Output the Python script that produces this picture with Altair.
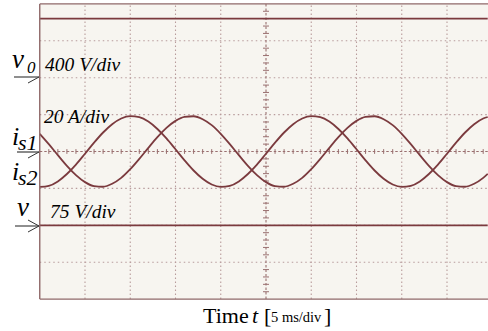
import altair as alt
import pandas as pd

# ---------------- data ----------------
# time axis: 5 ms/div, samples in ms
t_ms = list(range(0, 50)) + [49.5]

# source currents (A), 20 A/div
is1_A = [9.6, 4.0, -2.0, -7.8, -12.8, -16.6, -18.8, -19.1, -17.5, -14.3,
         -9.6, -4.0, 2.0, 7.8, 12.8, 16.6, 18.8, 19.1, 17.5, 14.3,
         9.6, 4.0, -2.0, -7.8, -12.8, -16.6, -18.8, -19.1, -17.5, -14.3,
         -9.6, -4.0, 2.0, 7.8, 12.8, 16.6, 18.8, 19.1, 17.5, 14.3,
         9.6, 4.0, -2.0, -7.8, -12.8, -16.6, -18.8, -19.1, -17.5, -14.3,
         -12.1]
is2_A = [-19.2, -18.6, -16.2, -12.2, -7.1, -1.2, 4.8, 10.3, 14.8, 17.9,
         19.2, 18.6, 16.2, 12.2, 7.1, 1.2, -4.8, -10.3, -14.8, -17.9,
         -19.2, -18.6, -16.2, -12.2, -7.1, -1.2, 4.8, 10.3, 14.8, 17.9,
         19.2, 18.6, 16.2, 12.2, 7.1, 1.2, -4.8, -10.3, -14.8, -17.9,
         -19.2, -18.6, -16.2, -12.2, -7.1, -1.2, 4.8, 10.3, 14.8, 17.9,
         18.7]

# flat voltage traces
t_flat = [0, 49.5]
v0_V = [640, 640]      # 400 V/div, reference at +2 div
v_V = [0, 0]           # 75 V/div, reference at -2 div

# channel settings: (volts or amps per div, reference level in div)
ch_v0 = (400, 2)
ch_is = (20, 0)
ch_v = (75, -2)

# ---------------- geometry helpers ----------------
X0, PX_PER_MS = 39.75, 9.05
Y0, PX_PER_DIV = 151.5, 36.9
W, H = 488, 331

def tx(px):
    return (px - X0) / PX_PER_MS

def dy(py):
    return (Y0 - py) / PX_PER_DIV

T_MIN, T_MAX = tx(0), tx(W)
D_MAX, D_MIN = dy(0), dy(H)

xs = alt.Scale(domain=[T_MIN, T_MAX], nice=False, zero=False)
ys = alt.Scale(domain=[D_MIN, D_MAX], nice=False, zero=False)

TRACE = "#7b3a3e"
GRID = "#b89c9c"

# ---------------- traces ----------------
rows = []
for t, a, b in zip(t_ms, is1_A, is2_A):
    rows.append({"t": t, "d": ch_is[1] + a / ch_is[0], "s": "is1"})
    rows.append({"t": t, "d": ch_is[1] + b / ch_is[0], "s": "is2"})
for t, a, b in zip(t_flat, v0_V, v_V):
    rows.append({"t": t, "d": ch_v0[1] + a / ch_v0[0], "s": "v0"})
    rows.append({"t": t, "d": ch_v[1] + b / ch_v[0], "s": "v"})
traces = pd.DataFrame(rows)

# ---------------- graticule ----------------
screen = pd.DataFrame({"t0": [0], "t1": [T_MAX], "d0": [-4], "d1": [4]})
hgrid = pd.DataFrame({"d": [-3, -2, -1, 1, 2, 3], "t0": 0, "t1": T_MAX})
vgrid = pd.DataFrame({"t": [5, 10, 15, 20, 30, 35, 40, 45], "d0": -4, "d1": 4})
center = pd.DataFrame({"t0": [0, 25], "t1": [T_MAX, 25], "d0": [0, -4], "d1": [0, 4]})

ticks = []
k = 1
while k * 1.0 < T_MAX:
    tt = k * 1.0
    if k % 5 != 0:
        ticks.append({"t0": tt, "t1": tt, "d0": -0.065, "d1": 0.065})
    k += 1
for j in range(-19, 20):
    if j % 5 != 0:
        ticks.append({"t0": 25 - 0.33, "t1": 25 + 0.33, "d0": j * 0.2, "d1": j * 0.2})
ticks = pd.DataFrame(ticks)

frame = pd.DataFrame({"t0": [0, 0, 0], "t1": [0, T_MAX, T_MAX],
                      "d0": [-4, 4, -4], "d1": [4, 4, -4]})

# ---------------- arrows (pixel positions) ----------------
arrow_px = [
    (14, 77, 39, 77, "#333333", 1.1),
    (28, 83, 39, 77, "#333333", 1.0),
    (17, 152, 39, 152, "#8a8a8a", 2.0),
    (28, 158, 39, 152, "#333333", 1.0),
    (15, 226, 39, 226, "#333333", 1.1),
    (28, 220, 39, 226, "#333333", 1.0),
    (28, 232, 39, 226, "#333333", 1.0),
]
arrows = pd.DataFrame([{"t0": tx(a), "d0": dy(b), "t1": tx(c), "d1": dy(d), "c": col, "w": w}
                       for a, b, c, d, col, w in arrow_px])

# ---------------- labels (pixel positions) ----------------
ital = [
    ("v", 12, 68, 27), ("0", 27, 73, 17), ("400 V/div", 45, 71, 19.5),
    ("i", 12, 145, 26), ("s1", 18, 150, 22),
    ("i", 12, 180, 26), ("s2", 18, 185, 22),
    ("20 A/div", 44, 123, 19.5),
    ("v", 17, 216, 27), ("75 V/div", 50, 218, 19.5),
    ("t", 252, 323, 22),
]
norm = [
    ("Time", 203, 323, 22), ("[", 264, 323, 22),
    ("5 ms/div", 271, 322, 14.5), ("]", 324, 323, 22),
]
def lab_df(lst):
    return pd.DataFrame([{"txt": s, "t": tx(x), "d": dy(y), "fs": f} for s, x, y, f in lst])

# ---------------- layers ----------------
def rule_layer(df, **kw):
    return alt.Chart(df).mark_rule(**kw).encode(
        x=alt.X("t0:Q", scale=xs, axis=None), x2="t1:Q",
        y=alt.Y("d0:Q", scale=ys, axis=None), y2="d1:Q")

bg = alt.Chart(screen).mark_rect(fill="#f7f5f0").encode(
    x=alt.X("t0:Q", scale=xs, axis=None), x2="t1:Q",
    y=alt.Y("d0:Q", scale=ys, axis=None), y2="d1:Q")

hg = alt.Chart(hgrid).mark_rule(color=GRID, strokeWidth=1.1, strokeDash=[1.5, 3]).encode(
    x=alt.X("t0:Q", scale=xs, axis=None), x2="t1:Q",
    y=alt.Y("d:Q", scale=ys, axis=None))
vg = alt.Chart(vgrid).mark_rule(color=GRID, strokeWidth=1.1, strokeDash=[1.5, 2.5]).encode(
    x=alt.X("t:Q", scale=xs, axis=None),
    y=alt.Y("d0:Q", scale=ys, axis=None), y2="d1:Q")
cg = rule_layer(center, color="#9a7070", strokeWidth=1.1, strokeDash=[2.5, 2])
tk = rule_layer(ticks, color="#9a7070", strokeWidth=1.0)
fr = rule_layer(frame, color="#8f6868", strokeWidth=1.4)

tr = alt.Chart(traces).mark_line(color=TRACE, strokeWidth=1.8, interpolate="monotone").encode(
    x=alt.X("t:Q", scale=xs, axis=None),
    y=alt.Y("d:Q", scale=ys, axis=None),
    detail="s:N")

ar = alt.Chart(arrows).mark_rule().encode(
    x=alt.X("t0:Q", scale=xs, axis=None), x2="t1:Q",
    y=alt.Y("d0:Q", scale=ys, axis=None), y2="d1:Q",
    color=alt.Color("c:N", scale=None, legend=None),
    strokeWidth=alt.StrokeWidth("w:Q", scale=None, legend=None))

def text_layer(df, style):
    return alt.Chart(df).mark_text(align="left", baseline="alphabetic",
                                   font="Liberation Serif", fontStyle=style,
                                   color="#000000").encode(
        x=alt.X("t:Q", scale=xs, axis=None),
        y=alt.Y("d:Q", scale=ys, axis=None),
        text="txt:N",
        size=alt.Size("fs:Q", scale=None, legend=None))

ti = text_layer(lab_df(ital), "italic")
tn = text_layer(lab_df(norm), "normal")

chart = alt.layer(bg, hg, vg, cg, tk, tr, fr, ar, ti, tn).properties(
    width=W, height=H,
    autosize=alt.AutoSizeParams(type="none"),
    padding=0,
    background="white",
).configure_view(stroke=None)

chart.save("out.html", embed_options={"renderer": "svg", "actions": False})
